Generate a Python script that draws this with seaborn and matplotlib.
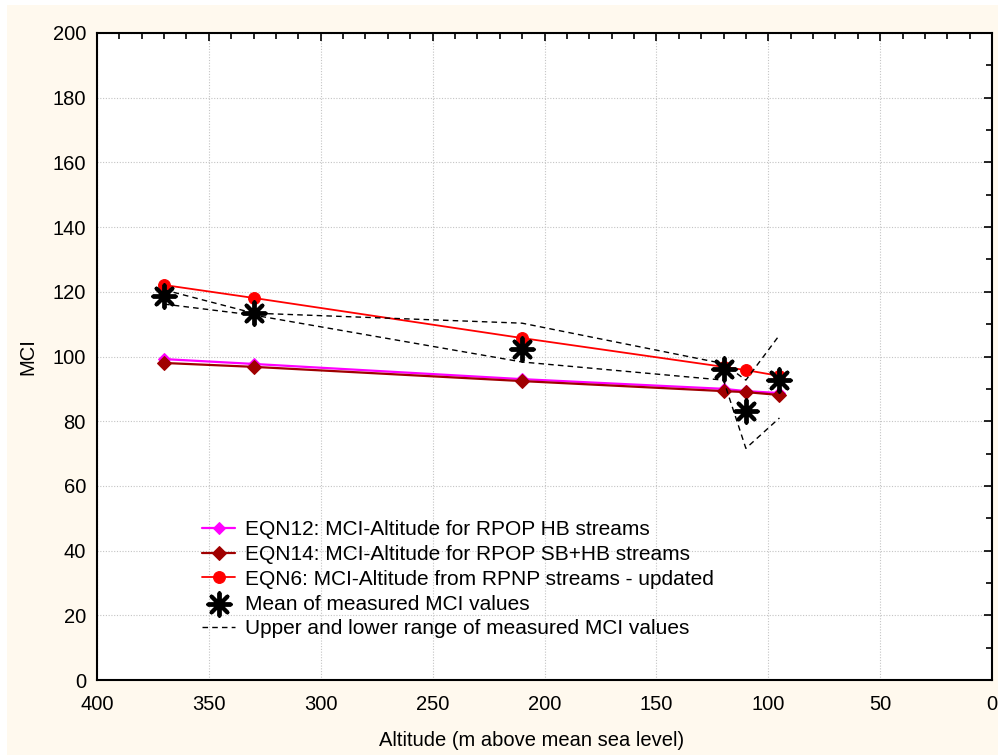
import numpy as np
import pandas as pd
import matplotlib
matplotlib.use("Agg")
import matplotlib.pyplot as plt
from matplotlib.patches import Rectangle
from matplotlib.ticker import MultipleLocator
import seaborn as sns

# ---- data ----
altitude = [370, 330, 210, 120, 110, 95]
eqn12 = [99.2, 97.7, 93.0, 90.0, 89.3, 88.7]
eqn14 = [98.0, 96.8, 92.4, 89.3, 89.0, 88.1]
eqn6 = [122.1, 118.1, 105.7, 96.8, 95.8, 94.0]
mean_mci = [118.7, 113.4, 102.3, 96.1, 83.2, 92.7]
upper_mci = [120.6, 113.4, 110.3, 97.8, 92.7, 106.6]
lower_mci = [116.2, 112.8, 98.3, 92.7, 71.6, 81.0]

labels = [
    "EQN12: MCI-Altitude for RPOP HB streams",
    "EQN14: MCI-Altitude for RPOP SB+HB streams",
    "EQN6: MCI-Altitude from RPNP streams - updated",
    "Mean of measured MCI values",
    "Upper and lower range of measured MCI values",
]
xticks = [400, 350, 300, 250, 200, 150, 100, 50, 0]
yticks = [0, 20, 40, 60, 80, 100, 120, 140, 160, 180, 200]

sns.set_theme(style="white")
plt.rcParams["font.family"] = ["Liberation Sans", "DejaVu Sans"]
plt.rcParams["text.color"] = "black"

fig = plt.figure(figsize=(10.02, 7.55), dpi=100, facecolor="white")
fig.patches.append(Rectangle((7 / 1002, 0), (998 - 7) / 1002, (755 - 5) / 755,
                             transform=fig.transFigure, facecolor="#FFF9EE",
                             edgecolor="none", zorder=-10))
ax = fig.add_axes([97 / 1002, (755 - 680) / 755, (992 - 97) / 1002, (680 - 33) / 755])
ax.set_facecolor("white")

df = pd.DataFrame({"alt": altitude, "e12": eqn12, "e14": eqn14, "e6": eqn6,
                   "mean": mean_mci, "up": upper_mci, "lo": lower_mci})

sns.lineplot(data=df, x="alt", y="e12", ax=ax, color="#FF00FF", lw=1.6,
             marker="D", markersize=6.5, markeredgecolor="#FF00FF",
             label=labels[0], sort=False, zorder=3)
sns.lineplot(data=df, x="alt", y="e14", ax=ax, color="#A00000", lw=1.6,
             marker="D", markersize=7.5, markeredgecolor="#A00000",
             label=labels[1], sort=False, zorder=4)
sns.lineplot(data=df, x="alt", y="e6", ax=ax, color="#FF0000", lw=1.3,
             marker="o", markersize=8.5, markeredgecolor="#FF0000",
             label=labels[2], sort=False, zorder=5)
sns.lineplot(data=df, x="alt", y="up", ax=ax, color="black", lw=1.0,
             linestyle=(0, (4, 3)), label=labels[4], sort=False, zorder=6)
sns.lineplot(data=df, x="alt", y="lo", ax=ax, color="black", lw=1.0,
             linestyle=(0, (4, 3)), sort=False, zorder=6)
sns.scatterplot(data=df, x="alt", y="mean", ax=ax, color="black",
                marker=(8, 2, 0), s=260, linewidth=2.8, edgecolor="black",
                label=labels[3], zorder=7)

ax.set_xlim(400, 0)
ax.set_ylim(0, 200)
ax.set_xticks(xticks)
ax.set_yticks(yticks)
ax.xaxis.set_minor_locator(MultipleLocator(10))
ax.yaxis.set_minor_locator(MultipleLocator(10))
ax.tick_params(which="both", direction="in", top=True, right=True, color="black",
               width=1.2, labelsize=14.5, labelcolor="black")
ax.tick_params(which="major", length=6)
ax.tick_params(which="minor", length=4)
ax.tick_params(axis="y", pad=8)
ax.tick_params(axis="x", pad=11)
ax.grid(True, which="major", linestyle=(0, (1, 1.5)), color="#C4C4C4", lw=0.8)
for s in ax.spines.values():
    s.set_color("black")
    s.set_linewidth(1.5)

ax.set_xlabel("Altitude (m above mean sea level)", fontsize=14.5, color="black")
ax.set_ylabel("MCI", fontsize=14.5, color="black")
ax.xaxis.set_label_coords(0.485, -0.079)
ax.yaxis.set_label_coords(-0.067, 0.5)

handles, labs = ax.get_legend_handles_labels()
order = [labs.index(l) for l in labels]
leg = ax.legend([handles[i] for i in order], [labs[i] for i in order],
                loc="upper left", bbox_to_anchor=(0.108, 0.260), frameon=False,
                fontsize=15, labelspacing=0.28, handlelength=1.6,
                handletextpad=0.45, borderaxespad=0, labelcolor="black")

fig.savefig("out.png", dpi=100, facecolor=fig.get_facecolor())
